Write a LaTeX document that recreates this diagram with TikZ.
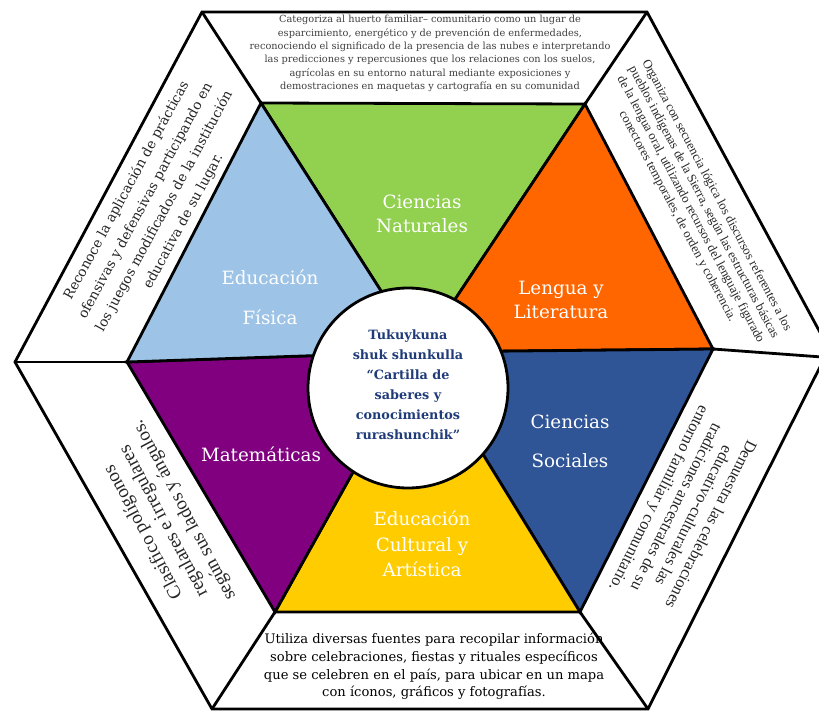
\documentclass[tikz,border=0pt]{standalone}
\usepackage{fontspec}
\setmainfont{DejaVu Serif}
\newfontfamily\timesf{Liberation Serif}
\definecolor{cverde}{HTML}{92D050}
\definecolor{cceleste}{HTML}{9DC3E6}
\definecolor{cnaranja}{HTML}{FF6600}
\definecolor{cazul}{HTML}{2F5597}
\definecolor{camarillo}{HTML}{FFCC00}
\definecolor{cmorado}{HTML}{800080}
\definecolor{ctexto}{HTML}{1F3B78}
\tikzset{
  borde/.style={draw=black, line width=2.8pt, line join=miter},
  etiqueta/.style={text=white, align=center, inner sep=0pt, font={\fontsize{18.3}{24}\selectfont}},
  caja/.style={align=center, inner sep=0pt, text=black!85},
}
\begin{document}
\begin{tikzpicture}[x=1pt,y=-1pt]
\useasboundingbox (0,0) rectangle (819,712);
\clip (0,0) rectangle (819,712);
\fill[white] (0,0) rectangle (819,712);
% outer hexagon
\coordinate (P1) at (202,12);
\coordinate (P2) at (647,12);
\coordinate (P3) at (829,349);
\coordinate (P4) at (648,709);
\coordinate (P5) at (212,709);
\coordinate (P6) at (15,362);
\coordinate (Q) at (822,357);
% inner hexagon
\coordinate (A) at (261,103);
\coordinate (B) at (585,104);
\coordinate (C) at (713,349);
\coordinate (D) at (580,612);
\coordinate (E) at (275,612);
\coordinate (F) at (127,362);
\coordinate (O) at (420,352);
% triangles
\filldraw[borde, fill=cverde] (A) -- (B) -- (O) -- cycle;
\filldraw[borde, fill=cnaranja] (B) -- (C) -- (O) -- cycle;
\filldraw[borde, fill=cazul] (C) -- (D) -- (O) -- cycle;
\filldraw[borde, fill=camarillo] (D) -- (E) -- (O) -- cycle;
\filldraw[borde, fill=cmorado] (E) -- (F) -- (O) -- cycle;
\filldraw[borde, fill=cceleste] (F) -- (A) -- (O) -- cycle;
% outer frame and separators
\draw[borde] (P1) -- (P2) -- (P3) -- (P4) -- (P5) -- (P6) -- cycle;
\draw[borde] (P1) -- (A);
\draw[borde] (P2) -- (B);
\draw[borde] (C) -- (Q);
\draw[borde] (P4) -- (D);
\draw[borde] (P5) -- (E);
\draw[borde] (P6) -- (F);
% centre circle
\node[circle, draw=black, line width=2.8pt, fill=white, minimum size=200pt, inner sep=0pt] (centro) at (408,388) {};
\node[align=center, inner sep=0pt, text=ctexto, font={\bfseries\fontsize{12.8}{20}\selectfont}] (lema) at (408,385)
  {Tukuykuna\\shuk shunkulla\\“Cartilla de\\saberes y\\conocimientos\\rurashunchik”};
% subject labels
\node[etiqueta] (natur) at (422,214) {Ciencias\\Naturales};
\node[etiqueta, font={\fontsize{18.3}{40}\selectfont}] (fisica) at (270,297) {Educación\\Física};
\node[etiqueta] (lengua) at (561,300) {Lengua y\\Literatura};
\node[etiqueta, font={\fontsize{18.3}{39}\selectfont}] (social) at (570,441) {Ciencias\\Sociales};
\node[etiqueta] (mate) at (261,454) {Matemáticas};
\node[etiqueta, font={\fontsize{18.3}{25.5}\selectfont}] (cultura) at (422,544) {Educación\\Cultural y\\Artística};
% outer texts
\node[caja, text=black!75, font={\fontsize{9.8}{13.4}\selectfont}] (arriba) at (430,53.5)
  {Categoriza al huerto familiar– comunitario como un lugar de\\
   esparcimiento, energético y de prevención de enfermedades,\\
   reconociendo el significado de la presencia de las nubes e interpretando\\
   las predicciones y repercusiones que los relaciones con los suelos,\\
   agrícolas en su entorno natural mediante exposiciones y\\
   demostraciones en maquetas y cartografía en su comunidad};
\node[caja, text=black, font={\fontsize{13.1}{17.7}\selectfont}] (abajo) at (434,666.5)
  {Utiliza diversas fuentes para recopilar información\\
   sobre celebraciones, fiestas y rituales específicos\\
   que se celebren en el país, para ubicar en un mapa\\
   con íconos, gráficos y fotografías.};
\node[caja, rotate=61.5, font={\fontsize{13.6}{21.5}\selectfont}] (supizq) at (155,206)
  {Reconoce la aplicación de prácticas\\
   ofensivas y defensivas participando en\\
   los juegos modificados de la institución\\
   educativa de su lugar.};
\node[caja, rotate=118, font={\timesf\fontsize{19}{23}\selectfont}] (infizq) at (164,521)
  {Clasifico polígonos\\
   regulares e irregulares\\
   según sus lados y ángulos.};
\node[caja, rotate=-62, font={\timesf\fontsize{12.8}{14.8}\selectfont}] (supder) at (697,206)
  {Organiza con secuencia lógica los discursos referentes a los\\
   pueblos indígenas de la Sierra, según las estructuras básicas\\
   de la lengua oral, utilizando recursos del lenguaje figurado\\
   conectores temporales, de orden y coherencia.};
\node[caja, rotate=-116.5, font={\timesf\fontsize{16.3}{19.4}\selectfont}] (infder) at (684,511)
  {Demuestra las celebraciones\\
   educativo-culturales las\\
   tradiciones ancestrales de su\\
   entorno familiar y comunitario.};
\end{tikzpicture}
\end{document}
